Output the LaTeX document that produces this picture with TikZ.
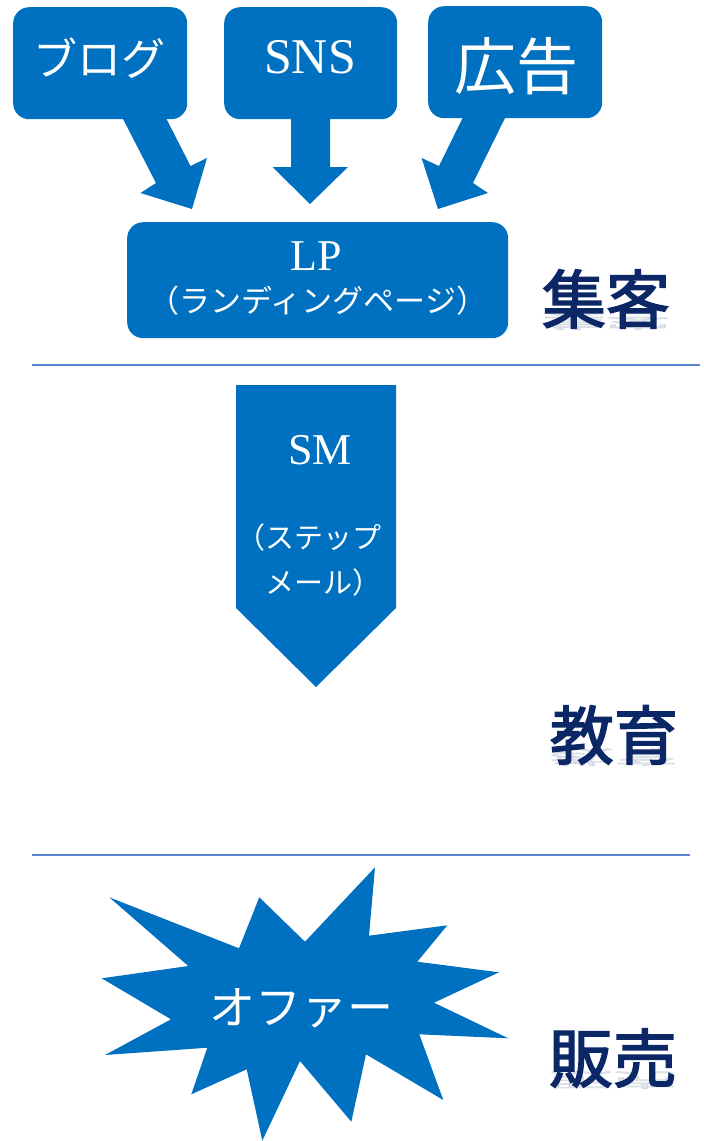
\documentclass[tikz,border=0pt]{standalone}
\usepackage{fontspec}
\setmainfont{Liberation Serif}
\newfontfamily\cjk{Noto Sans CJK JP}
\newfontfamily\cjkheavy[FakeBold=2.2]{Noto Sans CJK JP}
\definecolor{boxblue}{HTML}{0070C0}
\definecolor{navy}{HTML}{0B2766}
\definecolor{rulecol}{HTML}{5A86D2}
\begin{document}
\begin{tikzpicture}[x=1pt,y=-1pt,
  blob/.style={fill=boxblue, draw=none, rounded corners=16pt, inner sep=0pt},
  wtxt/.style={text=white, inner sep=0pt},
  stage/.style={text=navy, inner sep=0pt, font=\cjkheavy\fontsize{64}{70}\selectfont},
  refl/.style={stage, opacity=0.12, yscale=-0.3, transform shape, anchor=north},
  sepline/.style={draw=rulecol, line width=1.3pt}]
\useasboundingbox (0,0) rectangle (704,1141);

% --- top callout boxes
\node[blob, anchor=north west, minimum width=174pt, minimum height=112pt] (blog) at (13,7) {};
\node[blob, anchor=north west, minimum width=173pt, minimum height=112pt] (sns) at (224,7) {};
\node[blob, anchor=north west, minimum width=174pt, minimum height=112pt] (ad) at (428,6) {};

% callout arrows
\fill[boxblue] (122.5,110) -- (122.5,118) -- (156,183) -- (140.5,193) -- (192,209) -- (207,158) -- (190.5,166) -- (166,118) -- (166,110) -- cycle;
\fill[boxblue] (291,110) -- (291,167) -- (272.5,167) -- (310,204) -- (348,167) -- (330,167) -- (330,110) -- cycle;
\fill[boxblue] (462.6,110) -- (462.6,118) -- (439,166) -- (421.6,158) -- (438,209) -- (488,193) -- (473,183) -- (505,118) -- (505,110) -- cycle;

\node[wtxt, font=\cjk\fontsize{44}{48}\selectfont] (blogt) at (100,58) {ブログ};
\node[wtxt, font=\fontsize{50}{54}\selectfont] (snst) at (310,57) {SNS};
\node[wtxt, font=\cjk\fontsize{62}{66}\selectfont] (adt) at (516,66) {広告};

% --- LP box
\node[blob, anchor=north west, minimum width=381pt, minimum height=116pt] (lp) at (127,222) {};
\node[wtxt, font=\fontsize{44}{48}\selectfont] (lpt) at (316,256) {LP};
\node[wtxt, font=\cjk\fontsize{31}{34}\selectfont] (lpsub) at (318,301) {（ランディングページ）};

\node[stage] (s1) at (606,299) {集客};
\node[refl] (s1r) at (606,330) {集客};

\coordinate (r1a) at (32,365);
\coordinate (r1b) at (700,365);
\draw[sepline] (r1a) -- (r1b);

% --- SM pentagon arrow
\fill[boxblue] (236,385) -- (396,385) -- (396,608) -- (316,687) -- (236,608) -- cycle;
\node[wtxt, font=\fontsize{44}{48}\selectfont] (smt) at (320,450) {SM};
\node[wtxt, font=\cjk\fontsize{29}{45}\selectfont, align=right, anchor=north east] (smsub) at (382,523) {（ステップ\\メール）};

\node[stage] (s2) at (614,735) {教育};
\node[refl] (s2r) at (614,766) {教育};

\coordinate (r2a) at (32,855);
\coordinate (r2b) at (690,855);
\draw[sepline] (r2a) -- (r2b);

% --- offer burst
\fill[boxblue] (109.3,897.3) -- (239,948.3) -- (259.3,897.3) -- (305,941.7) -- (375,867.3) -- (369,935.7)
  -- (447.3,925.3) -- (417.3,961.7) -- (499,972.3) -- (434,1002.7) -- (508.3,1038.3) -- (419.3,1034.3)
  -- (443.3,1100) -- (366,1054.3) -- (351.3,1121.7) -- (300,1061) -- (262.3,1140.7) -- (246.7,1069.3)
  -- (191.3,1094.3) -- (207.3,1047.7) -- (105,1055) -- (171,1019.3) -- (101.7,978.3) -- (188.3,966) -- cycle;
\node[wtxt, font=\cjk\fontsize{46}{50}\selectfont] (offer) at (301,1008) {オファー};

\node[stage] (s3) at (613,1058) {販売};
\node[refl] (s3r) at (613,1089) {販売};
\end{tikzpicture}
\end{document}
